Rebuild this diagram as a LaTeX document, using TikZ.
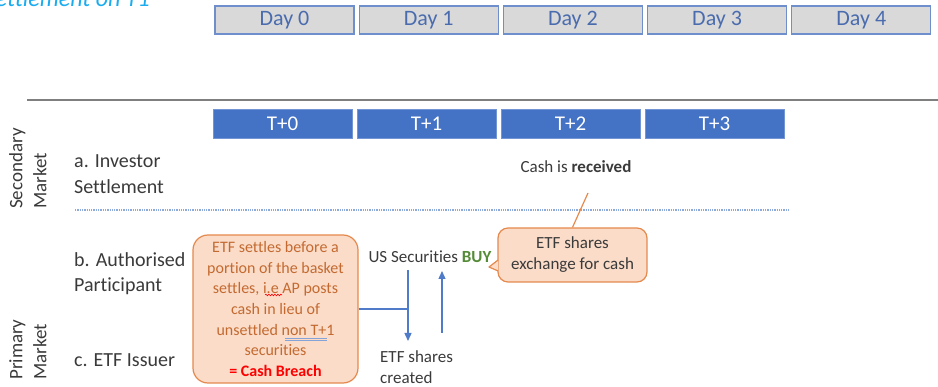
\documentclass[tikz,border=0pt]{standalone}
\usepackage{fontspec}
\setmainfont{Carlito}[Ligatures=NoCommon]
\usetikzlibrary{arrows.meta,calc,decorations.pathmorphing}
\definecolor{daytxt}{HTML}{4A6CAE}
\definecolor{dayborder}{HTML}{6E8FCB}
\definecolor{dayfill}{HTML}{D9D9D9}
\definecolor{tblue}{HTML}{4472C4}
\definecolor{peach}{HTML}{FADCC9}
\definecolor{orangeline}{HTML}{E5894D}
\definecolor{brownish}{HTML}{C46A30}
\definecolor{txt}{HTML}{3A3A3A}
\definecolor{buygreen}{HTML}{548B36}
\definecolor{titlecyan}{HTML}{1AACEF}
\definecolor{dotblue}{HTML}{8EA9DB}
\definecolor{arrowblue}{HTML}{4F7BC8}
\definecolor{grayline}{HTML}{7F7F7F}
\begin{document}
\begin{tikzpicture}[x=1pt,y=-1pt,
 daybox/.style={draw=dayborder, line width=1.2pt, fill=dayfill, minimum width=139pt, minimum height=28pt, inner sep=0, text=daytxt, font=\fontsize{22}{26}\selectfont},
 tbox/.style={fill=tblue, draw=tblue!75!white, line width=0.6pt, minimum width=139pt, minimum height=29pt, inner sep=0, text=white, font=\fontsize{21}{25}\selectfont},
 rowlabel/.style={anchor=west, align=left, text=txt, font=\fontsize{20}{25.5}\selectfont, inner sep=0},
 sidelabel/.style={rotate=90, anchor=north west, align=left, text=txt, font=\fontsize{19}{24}\selectfont, inner sep=0},
 note/.style={text=txt, font=\fontsize{17}{21}\selectfont, inner sep=0, align=center},
 calloutbox/.style={draw=orangeline, fill=peach, line width=1.2pt},
 blueline/.style={draw=arrowblue, line width=1.3pt},
 bluearrow/.style={blueline, -{Triangle[length=8pt,width=7pt]}},
]
\useasboundingbox (0,0) rectangle (938,387);

% title (cut off by the top edge)
\begin{scope}
\clip (0,0) rectangle (938,387);
\node[anchor=base east, inner sep=0, text=titlecyan, font=\fontsize{24}{28}\selectfont\itshape] (title) at (150,6.5) {Settlement on T1};
\end{scope}

% day boxes
\foreach \i/\x in {0/284.5,1/428.7,2/572.9,3/717.1,4/861.3}
  \node[daybox] (day\i) at (\x,20) {Day \i};

% separator
\draw[grayline, line width=2pt] (27,100) -- (938,100);

% T boxes
\foreach \i/\x in {0/282.5,1/426.5,2/570.5,3/714.5}
  \node[tbox] (t\i) at (\x,123.5) {T+\i};

% side labels
\node[sidelabel] (sec) at (9,209) {Secondary\\Market};
\node[sidelabel] (prim) at (9,380) {Primary\\Market};

% row labels
\node[rowlabel] (inv) at (74,174) {a. Investor\\Settlement};
\node[rowlabel] (ap) at (74,273.5) {b. Authorised\\Participant};
\node[rowlabel] (iss) at (74,360) {c. ETF Issuer};

% dotted divider
\draw[dotblue, line width=1.3pt, densely dotted] (75,210) -- (790,210);

% cash received
\node[note] (cash) at (576,167) {Cash is \textbf{received}};

% breach box
\node[calloutbox, rounded corners=15pt, minimum width=165pt, minimum height=148pt] (breach) at (275.5,309) {};
\node[text=brownish, font=\fontsize{16}{20.6}\selectfont, align=center, inner sep=0] (breachtxt) at (breach.center) {ETF settles before a\\portion of the basket\\settles, i.e AP posts\\cash in lieu of\\unsettled non T+1\\securities\\\textcolor{red}{\textbf{= Cash Breach}}};
\draw[red, line width=0.6pt, decorate, decoration={snake, amplitude=0.8pt, segment length=3pt}] (265,295) -- (282,295);
\draw[arrowblue!70, line width=0.8pt] (285,338) -- (327,338);
\draw[arrowblue!70, line width=0.8pt] (285,340.6) -- (327,340.6);

% exchange callout
\node[calloutbox, rounded corners=10pt, minimum width=149pt, minimum height=54pt, note] (xchg) at (572.5,255) {ETF shares\\exchange for cash};
\coordinate (tailA) at ($(xchg.west)+(0.7,5)$);
\coordinate (tailB) at ($(xchg.west)+(0.7,16)$);
\coordinate (tailtip) at (489,267);
\fill[peach] (tailA) -- (tailtip) -- (tailB) -- cycle;
\draw[orangeline, line width=1.2pt, line join=round] (tailA) -- (tailtip) -- (tailB);
\coordinate (cashpt) at (588,193);
\draw[orangeline, line width=1.2pt] (xchg.north) -- (cashpt);

% US securities
\node[note] (us) at (430,257) {US Securities \textcolor{buygreen}{\textbf{BUY}}};
\node[note, align=left, anchor=west] (created) at (380,367.5) {ETF shares\\created};

% blue arrows
\coordinate (dtop) at (408,270);
\coordinate (dbot) at (408,341);
\coordinate (utop) at (442,271);
\coordinate (ubot) at (442,333);
\draw[blueline] (breach.east) -- (breach.east -| dtop);
\draw[bluearrow] (dtop) -- (dbot);
\draw[bluearrow] (ubot) -- (utop);
\end{tikzpicture}
\end{document}
